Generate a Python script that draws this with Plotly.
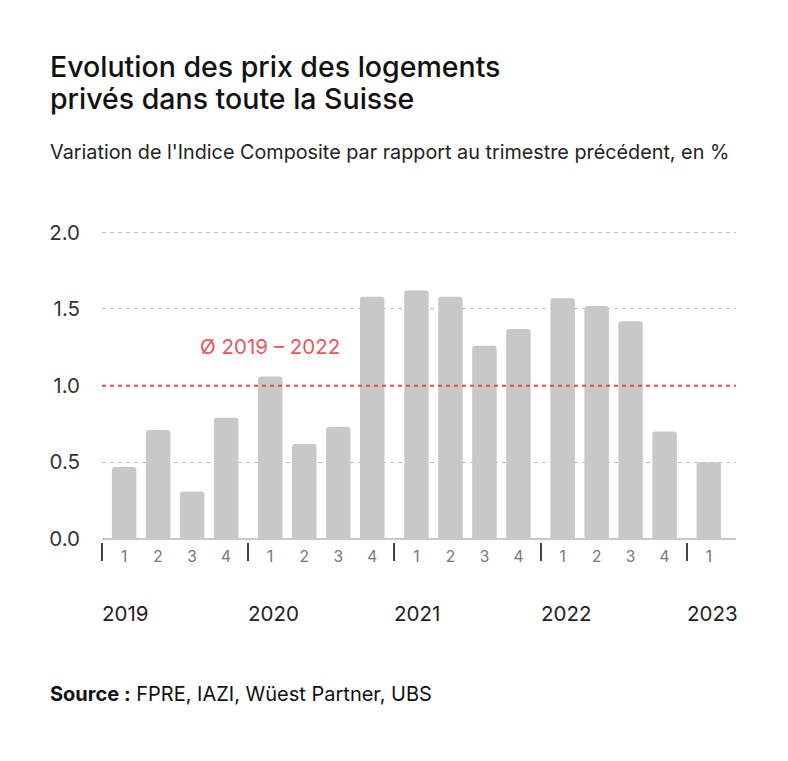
import plotly.graph_objects as go

# ---- data ----
years = ["2019", "2020", "2021", "2022", "2023"]
quarter_labels = ["1", "2", "3", "4", "1", "2", "3", "4", "1", "2", "3", "4",
                  "1", "2", "3", "4", "1"]
year_of_bar = [0, 0, 0, 0, 1, 1, 1, 1, 2, 2, 2, 2, 3, 3, 3, 3, 4]
quarter_index = [0, 1, 2, 3, 0, 1, 2, 3, 0, 1, 2, 3, 0, 1, 2, 3, 0]
values = [0.47, 0.71, 0.31, 0.79,
          1.06, 0.62, 0.73, 1.58,
          1.62, 1.58, 1.26, 1.37,
          1.57, 1.52, 1.42, 0.70,
          0.50]
average_value = 1.0
average_label = "Ø 2019 – 2022"
y_ticks = [0.0, 0.5, 1.0, 1.5, 2.0]
y_ticktext = ["0.0", "0.5", "1.0", "1.5", "2.0"]

title_lines = ["Evolution des prix des logements", "privés dans toute la Suisse"]
subtitle = "Variation de l'Indice Composite par rapport au trimestre précédent, en %"
source = "<b>Source :</b> FPRE, IAZI, Wüest Partner, UBS"

# ---- layout geometry ----
W, H = 788, 761
L, R, T, B = 102, 52, 217, 219
YEAR_STEP = 4.3
x_pos = [y * YEAR_STEP + q for y, q in zip(year_of_bar, quarter_index)]
sep_pos = [i * YEAR_STEP - 0.65 for i in range(len(years))]

plot_w = W - L - R
plot_h = H - T - B


def px_x(px):
    return (px - L) / plot_w


def px_y(py):
    return (H - B - py) / plot_h


FONT = "Inter"
fig = go.Figure()
fig.add_trace(go.Bar(
    x=x_pos, y=values, width=0.72,
    marker=dict(color="#c8c8c8", line=dict(width=0)),
    hoverinfo="skip",
))

fig.update_layout(
    width=W, height=H,
    margin=dict(l=L, r=R, t=T, b=B),
    paper_bgcolor="white", plot_bgcolor="white",
    showlegend=False,
    barcornerradius=3,
    font=dict(family=FONT, color="#222"),
    xaxis=dict(
        range=[-0.65, 18.0],
        tickmode="array", tickvals=x_pos, ticktext=quarter_labels,
        ticks="", showgrid=False, zeroline=False, showline=False,
        tickfont=dict(size=15.5, color="#777", family=FONT),
        ticklabelstandoff=3,
        minor=dict(tickmode="array", tickvals=sep_pos, ticks="outside",
                   ticklen=18, tickwidth=1.5, tickcolor="#444", showgrid=False),
        fixedrange=True,
    ),
    yaxis=dict(
        range=[-0.02, 2.1],
        tickmode="array", tickvals=y_ticks, ticktext=y_ticktext,
        ticks="", showline=False,
        showgrid=True, gridcolor="#bdbdbd", gridwidth=1, griddash="4px,4px",
        zeroline=True, zerolinecolor="#c8c8c8", zerolinewidth=2,
        tickfont=dict(size=20.5, color="#333", family=FONT),
        ticklabelstandoff=21,
        fixedrange=True,
    ),
)

# average line
fig.add_shape(type="line", xref="paper", x0=0, x1=1, yref="y",
              y0=average_value, y1=average_value, layer="above",
              line=dict(color="#e8474c", width=2, dash="4px,4px"))

ann = []
ann.append(dict(text=average_label, xref="paper", yref="paper",
                x=px_x(198), y=px_y(346), xanchor="left", yanchor="middle",
                showarrow=False, font=dict(size=20.5, color="#e8575a", family=FONT)))

# year labels
for i, yr in enumerate(years):
    ann.append(dict(text=yr, xref="x", yref="paper", x=sep_pos[i],
                    y=px_y(613), xanchor="left", yanchor="middle", xshift=-2,
                    showarrow=False, font=dict(size=20.5, color="#222", family=FONT)))

# title, subtitle, source
for i, line in enumerate(title_lines):
    ann.append(dict(text=line, xref="paper", yref="paper", x=px_x(48),
                    y=px_y(66 + 32 * i),
                    xanchor="left", yanchor="middle", align="left", showarrow=False,
                    font=dict(size=28.5, color="#111", family=FONT, weight=500)))
ann.append(dict(text=subtitle, xref="paper", yref="paper", x=px_x(48), y=px_y(151.5),
                xanchor="left", yanchor="middle", align="left", showarrow=False,
                font=dict(size=19.8, color="#222", family=FONT)))
ann.append(dict(text=source, xref="paper", yref="paper", x=px_x(48), y=px_y(694),
                xanchor="left", yanchor="middle", align="left", showarrow=False,
                font=dict(size=20, color="#111", family=FONT)))
fig.update_layout(annotations=ann)

fig.write_html("out.html")
